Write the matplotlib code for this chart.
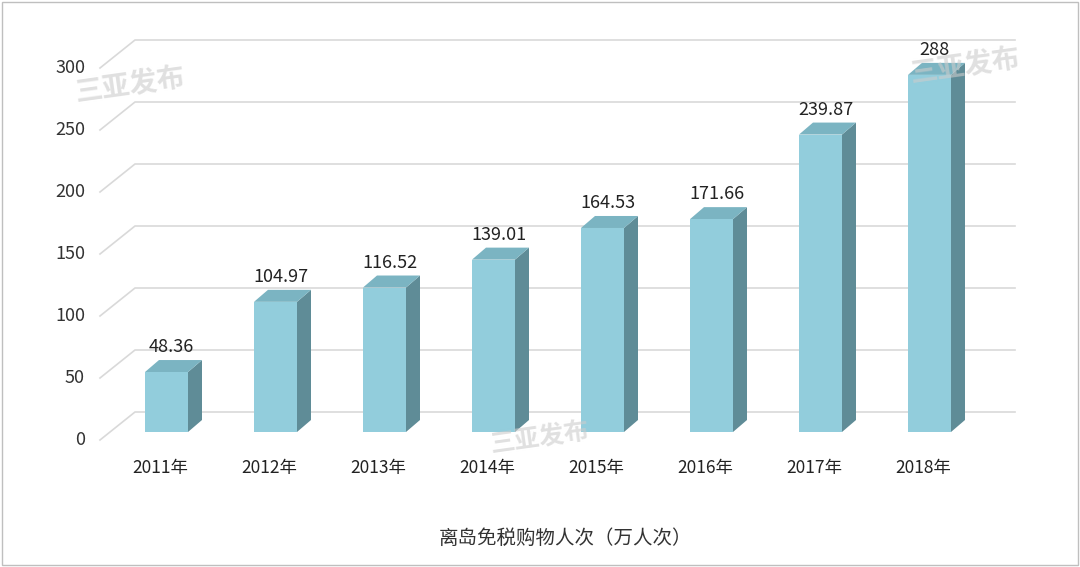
import matplotlib
matplotlib.use("Agg")
from matplotlib import pyplot as plt
from matplotlib.patches import Polygon

plt.rcParams['font.family'] = ['Noto Sans CJK SC', 'DejaVu Sans']

years = ["2011年", "2012年", "2013年", "2014年", "2015年", "2016年", "2017年", "2018年"]
values = [48.36, 104.97, 116.52, 139.01, 164.53, 171.66, 239.87, 288]
value_labels = ["48.36", "104.97", "116.52", "139.01", "164.53", "171.66", "239.87", "288"]
y_ticks = [0, 50, 100, 150, 200, 250, 300]
title = "离岛免税购物人次（万人次）"

# geometry (x in pixels, y in value units; 1.24 px per unit)
px = 1.24
bar_w = 43
x0, step = 145, 109
ddx, ddy = 14, 12 / px            # bar depth offset
front_off = -8 / px                # front plane of the floor/grid
back_dx, back_dy = 35, 28 / px     # wall depth

fig = plt.figure(figsize=(10.8, 5.67), dpi=100)
ax = fig.add_axes([0, 0, 1, 1])
ax.set_xlim(0, 1080)
ax.set_ylim(-135 / px, (567 - 135) / px)
ax.axis("off")

# grid lines (slanted floor edge + back wall)
for v in y_ticks:
    yf = v + front_off
    yb = yf + back_dy
    ax.plot([100, 100 + back_dx, 1015], [yf, yb, yb], color="#d9d9d9", lw=1.2, zorder=1)
    ax.text(85, yf, str(v), ha="right", va="center", fontsize=13, color="#333333")

front_c, top_c, side_c = "#92cddc", "#7bb4c2", "#5f8c97"
for i, (v, lab, yr) in enumerate(zip(values, value_labels, years)):
    xl = x0 + step * i
    xr = xl + bar_w
    ax.add_patch(Polygon([(xr, 0), (xr + ddx, ddy), (xr + ddx, v + ddy), (xr, v)],
                         closed=True, fc=side_c, ec="none", zorder=3))
    ax.add_patch(Polygon([(xl, v), (xl + ddx, v + ddy), (xr + ddx, v + ddy), (xr, v)],
                         closed=True, fc=top_c, ec="none", zorder=3))
    ax.add_patch(Polygon([(xl, 0), (xr, 0), (xr, v), (xl, v)],
                         closed=True, fc=front_c, ec="none", zorder=4))
    ax.text(xl + bar_w / 2 + 5, v + ddy + 3, lab, ha="center", va="bottom",
            fontsize=13, color="#222222", zorder=5)
    ax.text(xl + bar_w / 2 - 6, -36 / px, yr, ha="center", va="center",
            fontsize=12.5, color="#222222")

ax.text(565, -106 / px, title, ha="center", va="center", fontsize=14, color="#333333")

# watermarks
for wx, wy, s in [(130, 280, 20), (540, -5, 18), (965, 295, 20)]:
    ax.text(wx, wy, "三亚发布", ha="center", va="center", fontsize=s,
            color="#cccccc", alpha=0.6, rotation=8, fontweight="bold", zorder=6)

# outer frame
ax.add_patch(plt.Rectangle((2, -135 / px + 2 / px), 1076, 563 / px, fill=False,
                           ec="#bfbfbf", lw=1, zorder=0))

fig.savefig("out.png", dpi=100)
